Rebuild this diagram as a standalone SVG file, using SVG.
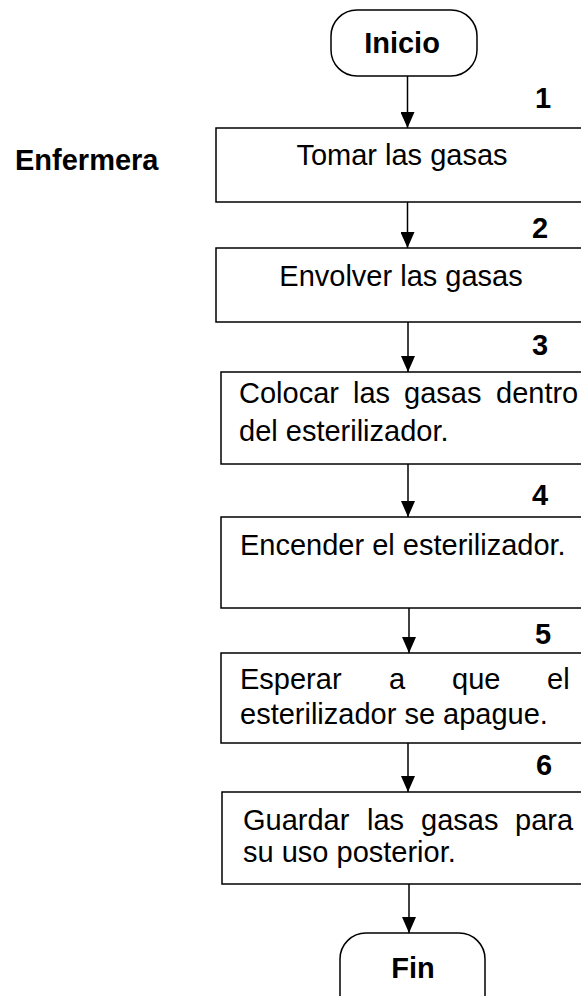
<svg xmlns="http://www.w3.org/2000/svg" width="581" height="996" viewBox="0 0 581 996">
<defs>
<style>
.box{fill:#fff;stroke:#000;stroke-width:1.5}
.t{font-family:"Liberation Sans",Arial,sans-serif;font-size:29px;fill:#000}
.b{font-family:"Liberation Sans",Arial,sans-serif;font-size:29px;font-weight:bold;fill:#000}
.c{text-anchor:middle}
.ln{stroke:#000;stroke-width:1.5;fill:none}
</style>
<marker id="ah" markerWidth="16" markerHeight="14" viewBox="0 0 16 14" refX="16" refY="7" orient="auto" markerUnits="userSpaceOnUse">
<path d="M0,0 L16,7 L0,14 Z" fill="#000"/>
</marker>
</defs>
<rect width="581" height="996" fill="#fff"/>
<g id="lane">
<text class="b" x="15" y="170">Enfermera</text>
</g>
<g id="inicio">
<rect class="box" x="331" y="10" width="146" height="66" rx="26"/>
<text class="b c" x="402" y="53">Inicio</text>
</g>
<g id="n1">
<rect class="box" x="216" y="128" width="380" height="74"/>
<text class="b" x="535" y="108">1</text>
<text class="t c" x="402" y="165">Tomar las gasas</text>
</g>
<g id="n2">
<rect class="box" x="216" y="248" width="380" height="74"/>
<text class="b" x="532" y="238">2</text>
<text class="t c" x="401" y="286">Envolver las gasas</text>
</g>
<g id="n3">
<rect class="box" x="221" y="372" width="380" height="92"/>
<text class="b" x="532" y="355">3</text>
<text class="t" y="403"><tspan x="239">Colocar</tspan><tspan x="353">las</tspan><tspan x="404">gasas</tspan><tspan x="496">dentro</tspan></text>
<text class="t" x="239" y="441">del esterilizador.</text>
</g>
<g id="n4">
<rect class="box" x="221" y="517" width="380" height="91"/>
<text class="b" x="532" y="505">4</text>
<text class="t" x="240" y="555">Encender el esterilizador.</text>
</g>
<g id="n5">
<rect class="box" x="221" y="653" width="380" height="90"/>
<text class="b" x="535" y="644">5</text>
<text class="t" y="689"><tspan x="240">Esperar</tspan><tspan x="389">a</tspan><tspan x="452">que</tspan><tspan x="547">el</tspan></text>
<text class="t" x="240" y="724">esterilizador se apague.</text>
</g>
<g id="n6">
<rect class="box" x="222" y="792" width="380" height="92"/>
<text class="b" x="536" y="775">6</text>
<text class="t" y="830"><tspan x="243">Guardar</tspan><tspan x="367">las</tspan><tspan x="421">gasas</tspan><tspan x="515">para</tspan></text>
<text class="t" x="243" y="862">su uso posterior.</text>
</g>
<g id="fin">
<rect class="box" x="340" y="933" width="145" height="90" rx="26"/>
<text class="b c" x="413" y="978">Fin</text>
</g>
<g id="connectors">
<line class="ln" x1="407.5" y1="76" x2="407.5" y2="128" marker-end="url(#ah)"/>
<line class="ln" x1="407.5" y1="202" x2="407.5" y2="248" marker-end="url(#ah)"/>
<line class="ln" x1="408" y1="322" x2="408" y2="372" marker-end="url(#ah)"/>
<line class="ln" x1="408" y1="464" x2="408" y2="517" marker-end="url(#ah)"/>
<line class="ln" x1="409" y1="608" x2="409" y2="653" marker-end="url(#ah)"/>
<line class="ln" x1="408" y1="743" x2="408" y2="792" marker-end="url(#ah)"/>
<line class="ln" x1="409" y1="884" x2="409" y2="933" marker-end="url(#ah)"/>
</g>
</svg>
